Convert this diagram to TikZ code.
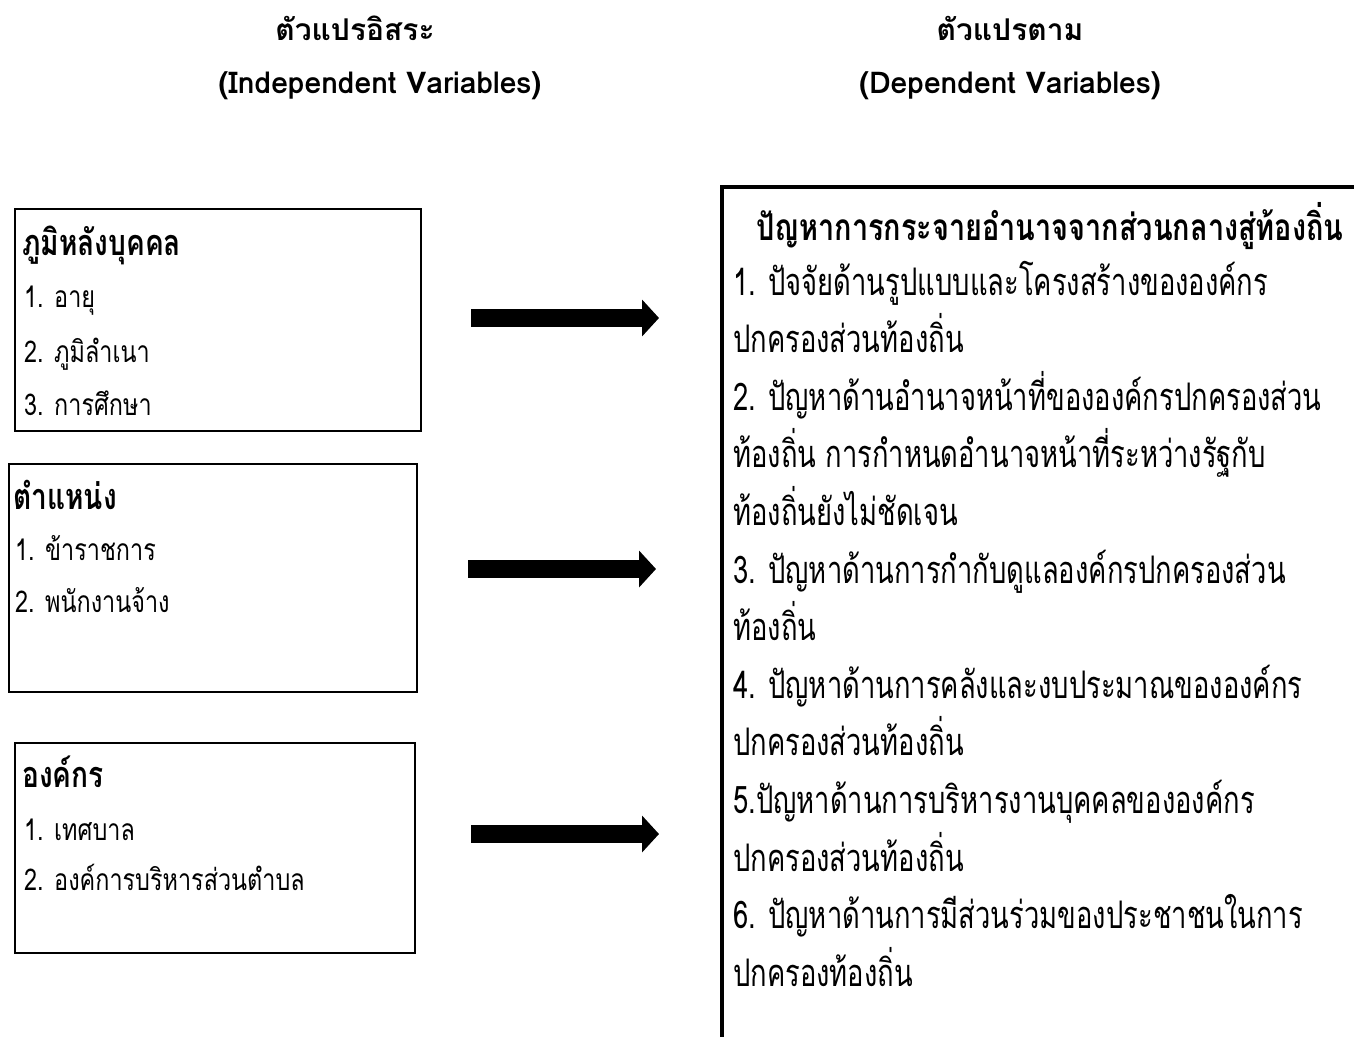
\documentclass[tikz,border=0pt]{standalone}
\usepackage{fontspec}
\newfontfamily\thaititle[Script=Thai]{Loma}
\newfontfamily\thaitext[Script=Thai,FakeStretch=0.78]{Loma}
\newfontfamily\thainarrow[Script=Thai,FakeStretch=0.72]{Loma}
\usetikzlibrary{arrows.meta,positioning}

\begin{document}
\begin{tikzpicture}
    [x=1pt,y=-1pt,
     title/.style={font=\thaititle\fontsize{30}{36}\selectfont\bfseries,anchor=base,inner sep=0pt},
     varbox/.style={draw,line width=1.6pt,anchor=north west,inner sep=0pt},
     boxhead/.style={font=\thaitext\fontsize{36}{40}\selectfont\bfseries,anchor=base west,inner sep=0pt},
     item/.style={font=\thaitext\fontsize{30}{34}\selectfont,anchor=base west,inner sep=0pt},
     dephead/.style={font=\thaitext\fontsize{37}{44}\selectfont\bfseries,anchor=base,inner sep=0pt},
     depitem/.style={font=\thainarrow\fontsize{38}{44}\selectfont,anchor=base west,inner sep=0pt},
     fat/.style={line width=18pt,-{Triangle[length=17pt,width=36pt]}}]

    \useasboundingbox (0,0) rectangle (1354,1036);

    % titles
    \node[title] (indep) at (355,40) {ตัวแปรอิสระ};
    \node[title] (indepen) at (380,93) {(Independent Variables)};
    \node[title] (dep) at (1010,40) {ตัวแปรตาม};
    \node[title] (depen) at (1010,93) {(Dependent Variables)};

    % left boxes
    \node[varbox,minimum width=406,minimum height=222] (bg) at (14,208) {};
    \node[boxhead] (bg0) at (22,255) {ภูมิหลังบุคคล};
    \node[item] (bg1) at (24,307) {1. อายุ};
    \node[item] (bg2) at (24,362) {2. ภูมิลำเนา};
    \node[item] (bg3) at (24,415) {3. การศึกษา};

    \node[varbox,minimum width=408,minimum height=228] (pos) at (8,463) {};
    \node[boxhead] (pos0) at (13,509) {ตำแหน่ง};
    \node[item] (pos1) at (15,560) {1. ข้าราชการ};
    \node[item] (pos2) at (15,612) {2. พนักงานจ้าง};

    \node[varbox,minimum width=400,minimum height=210] (org) at (14,742) {};
    \node[boxhead] (org0) at (22,787) {องค์กร};
    \node[item] (org1) at (24,840) {1. เทศบาล};
    \node[item] (org2) at (24,890) {2. องค์การบริหารส่วนตำบล};

    % arrows
    \coordinate (a1) at (471,318);
    \coordinate (b1) at (659,318);
    \coordinate (a2) at (468,569);
    \coordinate (b2) at (656,569);
    \coordinate (a3) at (471,834);
    \coordinate (b3) at (659,834);
    \draw[fat] (a1) -- (b1);
    \draw[fat] (a2) -- (b2);
    \draw[fat] (a3) -- (b3);

    % right box, runs off the page
    \node[draw,line width=4pt,anchor=north west,minimum width=700,minimum height=900] (depbox) at (720,185) {};
    \node[dephead] (dep0) at (1050,240) {ปัญหาการกระจายอำนาจจากส่วนกลางสู่ท้องถิ่น};
    \foreach \t [count=\i] in {1. ปัจจัยด้านรูปแบบและโครงสร้างขององค์กร,
        ปกครองส่วนท้องถิ่น,
        2. ปัญหาด้านอำนาจหน้าที่ขององค์กรปกครองส่วน,
        ท้องถิ่น การกำหนดอำนาจหน้าที่ระหว่างรัฐกับ,
        ท้องถิ่นยังไม่ชัดเจน,
        3. ปัญหาด้านการกำกับดูแลองค์กรปกครองส่วน,
        ท้องถิ่น,
        4. ปัญหาด้านการคลังและงบประมาณขององค์กร,
        ปกครองส่วนท้องถิ่น,
        5.ปัญหาด้านการบริหารงานบุคคลขององค์กร,
        ปกครองส่วนท้องถิ่น,
        6. ปัญหาด้านการมีส่วนร่วมของประชาชนในการ,
        ปกครองท้องถิ่น}
        \node[depitem] (dep\i) at (733,{295+57.6*(\i-1)}) {\t};

\end{tikzpicture}
\end{document}
